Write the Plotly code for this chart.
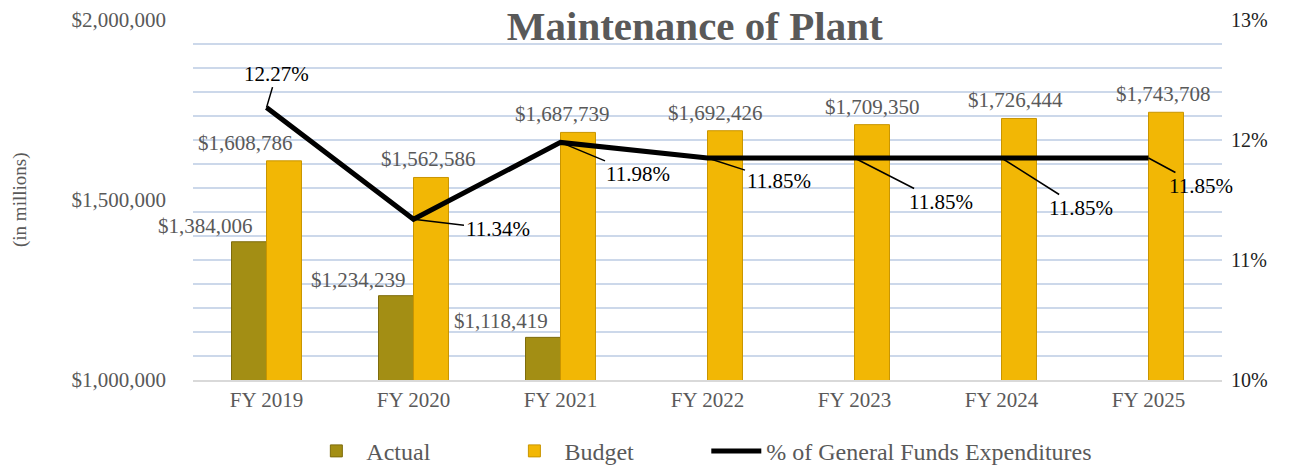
import plotly.graph_objects as go

years = ["FY 2019", "FY 2020", "FY 2021", "FY 2022", "FY 2023", "FY 2024", "FY 2025"]
actual = [1384006, 1234239, 1118419, None, None, None, None]
budget = [1608786, 1562586, 1687739, 1692426, 1709350, 1726444, 1743708]
pct_general = [12.27, 11.34, 11.98, 11.85, 11.85, 11.85, 11.85]

# label placement (pixels, relative to category centre / point)
actual_shift = [-61, -55, -60]
budget_shift = [-21, 15, 2, 8, 18, 14, 15]
pct_offsets = [(10, -34), (84, 10), (77, 32), (71, 23), (86, 44), (79, 50), (52, 28)]

GRAY = "#595959"
SERIF = "Liberation Serif"

fig = go.Figure()

fig.add_trace(go.Bar(
    x=years, y=actual, name="Actual", legend="legend",
    marker=dict(color="#A38E14", line=dict(color="#7E6C0C", width=1)),
))
fig.add_trace(go.Bar(
    x=years, y=budget, name="Budget", legend="legend2",
    marker=dict(color="#F2B705", line=dict(color="#C99500", width=1)),
))
fig.add_trace(go.Scatter(
    x=years, y=pct_general, name="% of General Funds Expenditures",
    mode="lines", yaxis="y2", legend="legend3",
    line=dict(color="black", width=5),
))

# bar value labels
for i, v in enumerate(actual):
    if v is None:
        continue
    fig.add_annotation(x=years[i], y=v, text=f"${v:,}", showarrow=False,
                       xshift=actual_shift[i], yanchor="bottom", yshift=2,
                       font=dict(family=SERIF, size=21, color=GRAY))
for i, v in enumerate(budget):
    fig.add_annotation(x=years[i], y=v, text=f"${v:,}", showarrow=False,
                       xshift=budget_shift[i], yanchor="bottom", yshift=4,
                       font=dict(family=SERIF, size=21, color=GRAY))

# percentage labels with leader lines
for i, p in enumerate(pct_general):
    ax, ay = pct_offsets[i]
    fig.add_annotation(x=years[i], y=p, yref="y2", text=f"{p:.2f}%",
                       showarrow=True, arrowhead=0, arrowwidth=1.5,
                       arrowcolor="black", ax=ax, ay=ay, standoff=0,
                       font=dict(family=SERIF, size=21, color="black"))

# y axis title
fig.add_annotation(x=0, y=0.5, xref="paper", yref="paper", xshift=-173,
                   xanchor="center", yanchor="middle",
                   text="(in millions)", textangle=-90, showarrow=False,
                   font=dict(family=SERIF, size=19, color=GRAY))

grid_vals = [10 + 0.2 * k for k in range(16)]
grid_text = [f"{int(round(g))}%" if abs(g - round(g)) < 1e-6 else "" for g in grid_vals]

legend_style = dict(orientation="h", xanchor="left", y=0.03, yanchor="middle",
                    xref="container", yref="container", itemwidth=50,
                    bgcolor="rgba(0,0,0,0)",
                    font=dict(family=SERIF, size=24, color=GRAY))

# page body has an 8px margin, so the figure is 8px smaller than the window
fig.update_layout(
    width=1286, height=457,
    margin=dict(l=185, r=72, t=12, b=85, autoexpand=False),
    paper_bgcolor="white", plot_bgcolor="white",
    barmode="group", bargap=0.524, bargroupgap=0,
    title=dict(text="<b>Maintenance of Plant</b>", x=0.534, xanchor="center",
               y=0.962, yanchor="middle", xref="container", yref="container",
               font=dict(family=SERIF, size=41, color=GRAY)),
    font=dict(family=SERIF, size=20, color=GRAY),
    xaxis=dict(range=[-0.5, 6.5], showgrid=False, showline=True,
               linecolor="#D9D9D9", linewidth=2,
               ticks="", automargin=False, tickfont=dict(size=21, color=GRAY)),
    yaxis=dict(range=[1000000, 2000000], tickvals=[1000000, 1500000, 2000000],
               ticktext=["$1,000,000", "$1,500,000", "$2,000,000"],
               showgrid=False, zeroline=False, ticks="", automargin=False,
               ticklabelstandoff=26, ticklabeloverflow="allow",
               tickfont=dict(size=21, color=GRAY)),
    yaxis2=dict(range=[10, 13], overlaying="y", side="right",
                tickvals=grid_vals, ticktext=grid_text,
                showgrid=True, gridcolor="#CCD8EA", gridwidth=1.5,
                zeroline=False, ticks="", automargin=False,
                ticklabelstandoff=8, ticklabeloverflow="allow",
                tickfont=dict(size=20, color="#222222")),
    legend=dict(x=0.232, **legend_style),
    legend2=dict(x=0.386, **legend_style),
    legend3=dict(x=0.543, **legend_style),
    showlegend=True,
)

fig.write_html("out.html")
